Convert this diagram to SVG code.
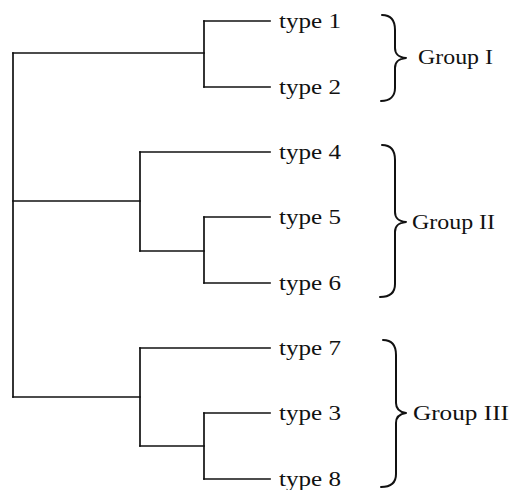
<svg xmlns="http://www.w3.org/2000/svg" width="510" height="490" viewBox="0 0 510 490">
  <style>
    .edge { fill: none; stroke: #111; stroke-width: 1.7; stroke-linecap: square; }
    .brace { fill: none; stroke: #111; stroke-width: 2; stroke-linecap: round; stroke-linejoin: round; }
    .leaf { font-family: "Liberation Serif", "Times New Roman", serif; font-size: 20px; fill: #111; }
    .grp { font-family: "Liberation Serif", "Times New Roman", serif; font-size: 22px; fill: #111; }
  </style>
  <rect width="510" height="490" fill="#fff"/>

  <!-- dendrogram branches -->
  <g id="connectors">
    <!-- root -->
    <path class="edge" d="M13,53 V397"/>
    <path class="edge" d="M13,53 H204"/>
    <path class="edge" d="M13,201 H140"/>
    <path class="edge" d="M13,397 H140"/>
    <!-- clade I -->
    <path class="edge" d="M204,21 V87"/>
    <path class="edge" d="M204,21 H270"/>
    <path class="edge" d="M204,87 H270"/>
    <!-- clade II -->
    <path class="edge" d="M140,152 V251"/>
    <path class="edge" d="M140,152 H270"/>
    <path class="edge" d="M140,251 H204"/>
    <path class="edge" d="M204,217 V283"/>
    <path class="edge" d="M204,217 H270"/>
    <path class="edge" d="M204,283 H270"/>
    <!-- clade III -->
    <path class="edge" d="M140,348 V446"/>
    <path class="edge" d="M140,348 H270"/>
    <path class="edge" d="M140,446 H204"/>
    <path class="edge" d="M204,413 V479"/>
    <path class="edge" d="M204,413 H270"/>
    <path class="edge" d="M204,479 H270"/>
  </g>

  <!-- leaves -->
  <g id="type1"><text class="leaf" x="279" y="28" textLength="62" lengthAdjust="spacingAndGlyphs">type 1</text></g>
  <g id="type2"><text class="leaf" x="279" y="94" textLength="62" lengthAdjust="spacingAndGlyphs">type 2</text></g>
  <g id="type4"><text class="leaf" x="279" y="159" textLength="62" lengthAdjust="spacingAndGlyphs">type 4</text></g>
  <g id="type5"><text class="leaf" x="279" y="224" textLength="62" lengthAdjust="spacingAndGlyphs">type 5</text></g>
  <g id="type6"><text class="leaf" x="279" y="290" textLength="62" lengthAdjust="spacingAndGlyphs">type 6</text></g>
  <g id="type7"><text class="leaf" x="279" y="355" textLength="62" lengthAdjust="spacingAndGlyphs">type 7</text></g>
  <g id="type3"><text class="leaf" x="279" y="420" textLength="62" lengthAdjust="spacingAndGlyphs">type 3</text></g>
  <g id="type8"><text class="leaf" x="279" y="486" textLength="62" lengthAdjust="spacingAndGlyphs">type 8</text></g>

  <!-- groups -->
  <g id="group1">
    <path class="brace" d="M382,15 C390,15 395,20 395,30 L395,48 C395,54 398,57 406,58 C398,59 395,62 395,68 L395,88 C395,96 390,101 381,101"/>
    <text class="grp" x="418" y="64" textLength="75" lengthAdjust="spacingAndGlyphs">Group I</text>
  </g>
  <g id="group2">
    <path class="brace" d="M382,145 C390,145 395,150 395,160 L395,212 C395,218 398,221 406,222 C398,223 395,226 395,232 L395,284 C395,292 390,297 380,297"/>
    <text class="grp" x="412" y="229" textLength="83" lengthAdjust="spacingAndGlyphs">Group II</text>
  </g>
  <g id="group3">
    <path class="brace" d="M383,340 C391,340 396,345 396,355 L396,403 C396,409 399,412 406,413 C399,414 396,417 396,423 L396,474 C396,482 391,487 381,487"/>
    <text class="grp" x="413" y="420" textLength="96" lengthAdjust="spacingAndGlyphs">Group III</text>
  </g>
</svg>
